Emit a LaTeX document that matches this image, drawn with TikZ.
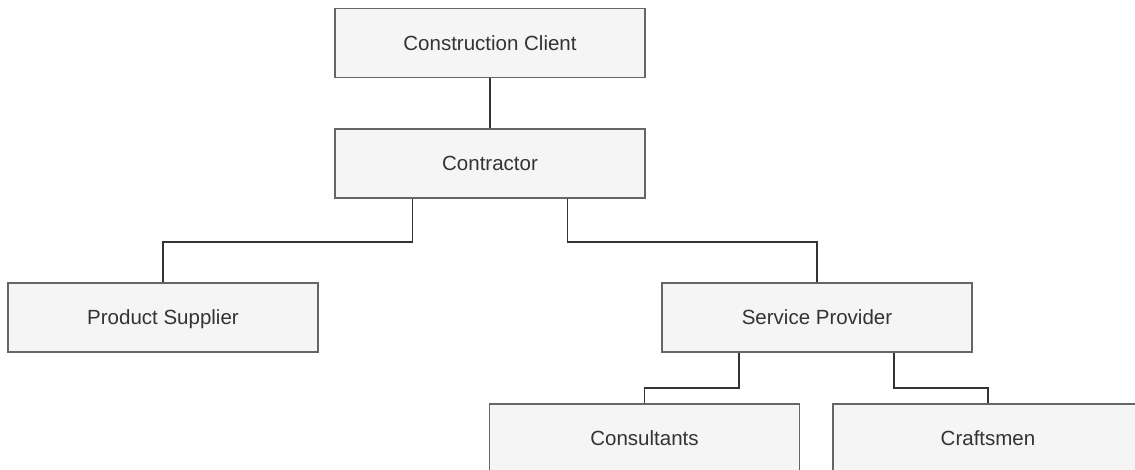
\documentclass[tikz,border=0pt]{standalone}
\usepackage{fontspec}
\setmainfont{Liberation Sans}
\usetikzlibrary{calc}
\definecolor{boxfill}{HTML}{F5F5F5}
\definecolor{boxline}{HTML}{666666}
\definecolor{txt}{HTML}{333333}
\definecolor{conn}{HTML}{333333}
\tikzset{
  orgbox/.style={draw=boxline, fill=boxfill, line width=1.5pt, minimum width=310pt, minimum height=69pt, inner sep=0pt, text height=19pt, text depth=4.5pt, text=txt, font=\fontsize{20.5pt}{24pt}\selectfont},
  link/.style={draw=conn, line width=1.6pt}
}
\begin{document}
\begin{tikzpicture}[x=1pt,y=-1pt]
\useasboundingbox (0,0) rectangle (1135,470);
\node[orgbox] (client) at (490,43) {Construction Client};
\node[orgbox] (contractor) at (490,163.5) {Contractor};
\node[orgbox] (product) at (163,317.5) {Product Supplier};
\node[orgbox] (service) at (817,317.5) {Service Provider};
\node[orgbox] (consult) at (644.5,438.5) {Consultants};
\node[orgbox] (craft) at (988,438.5) {Craftsmen};
\draw[link] (client.south) -- (contractor.north);
\draw[link] ([xshift=-77.5pt]contractor.south) -- ++(0,43) -| (product.north);
\draw[link] ([xshift=77.5pt]contractor.south) -- ++(0,43) -| (service.north);
\draw[link] ([xshift=-78pt]service.south) -- ++(0,35) -| (consult.north);
\draw[link] ([xshift=77pt]service.south) -- ++(0,35) -| (craft.north);
\end{tikzpicture}
\end{document}
